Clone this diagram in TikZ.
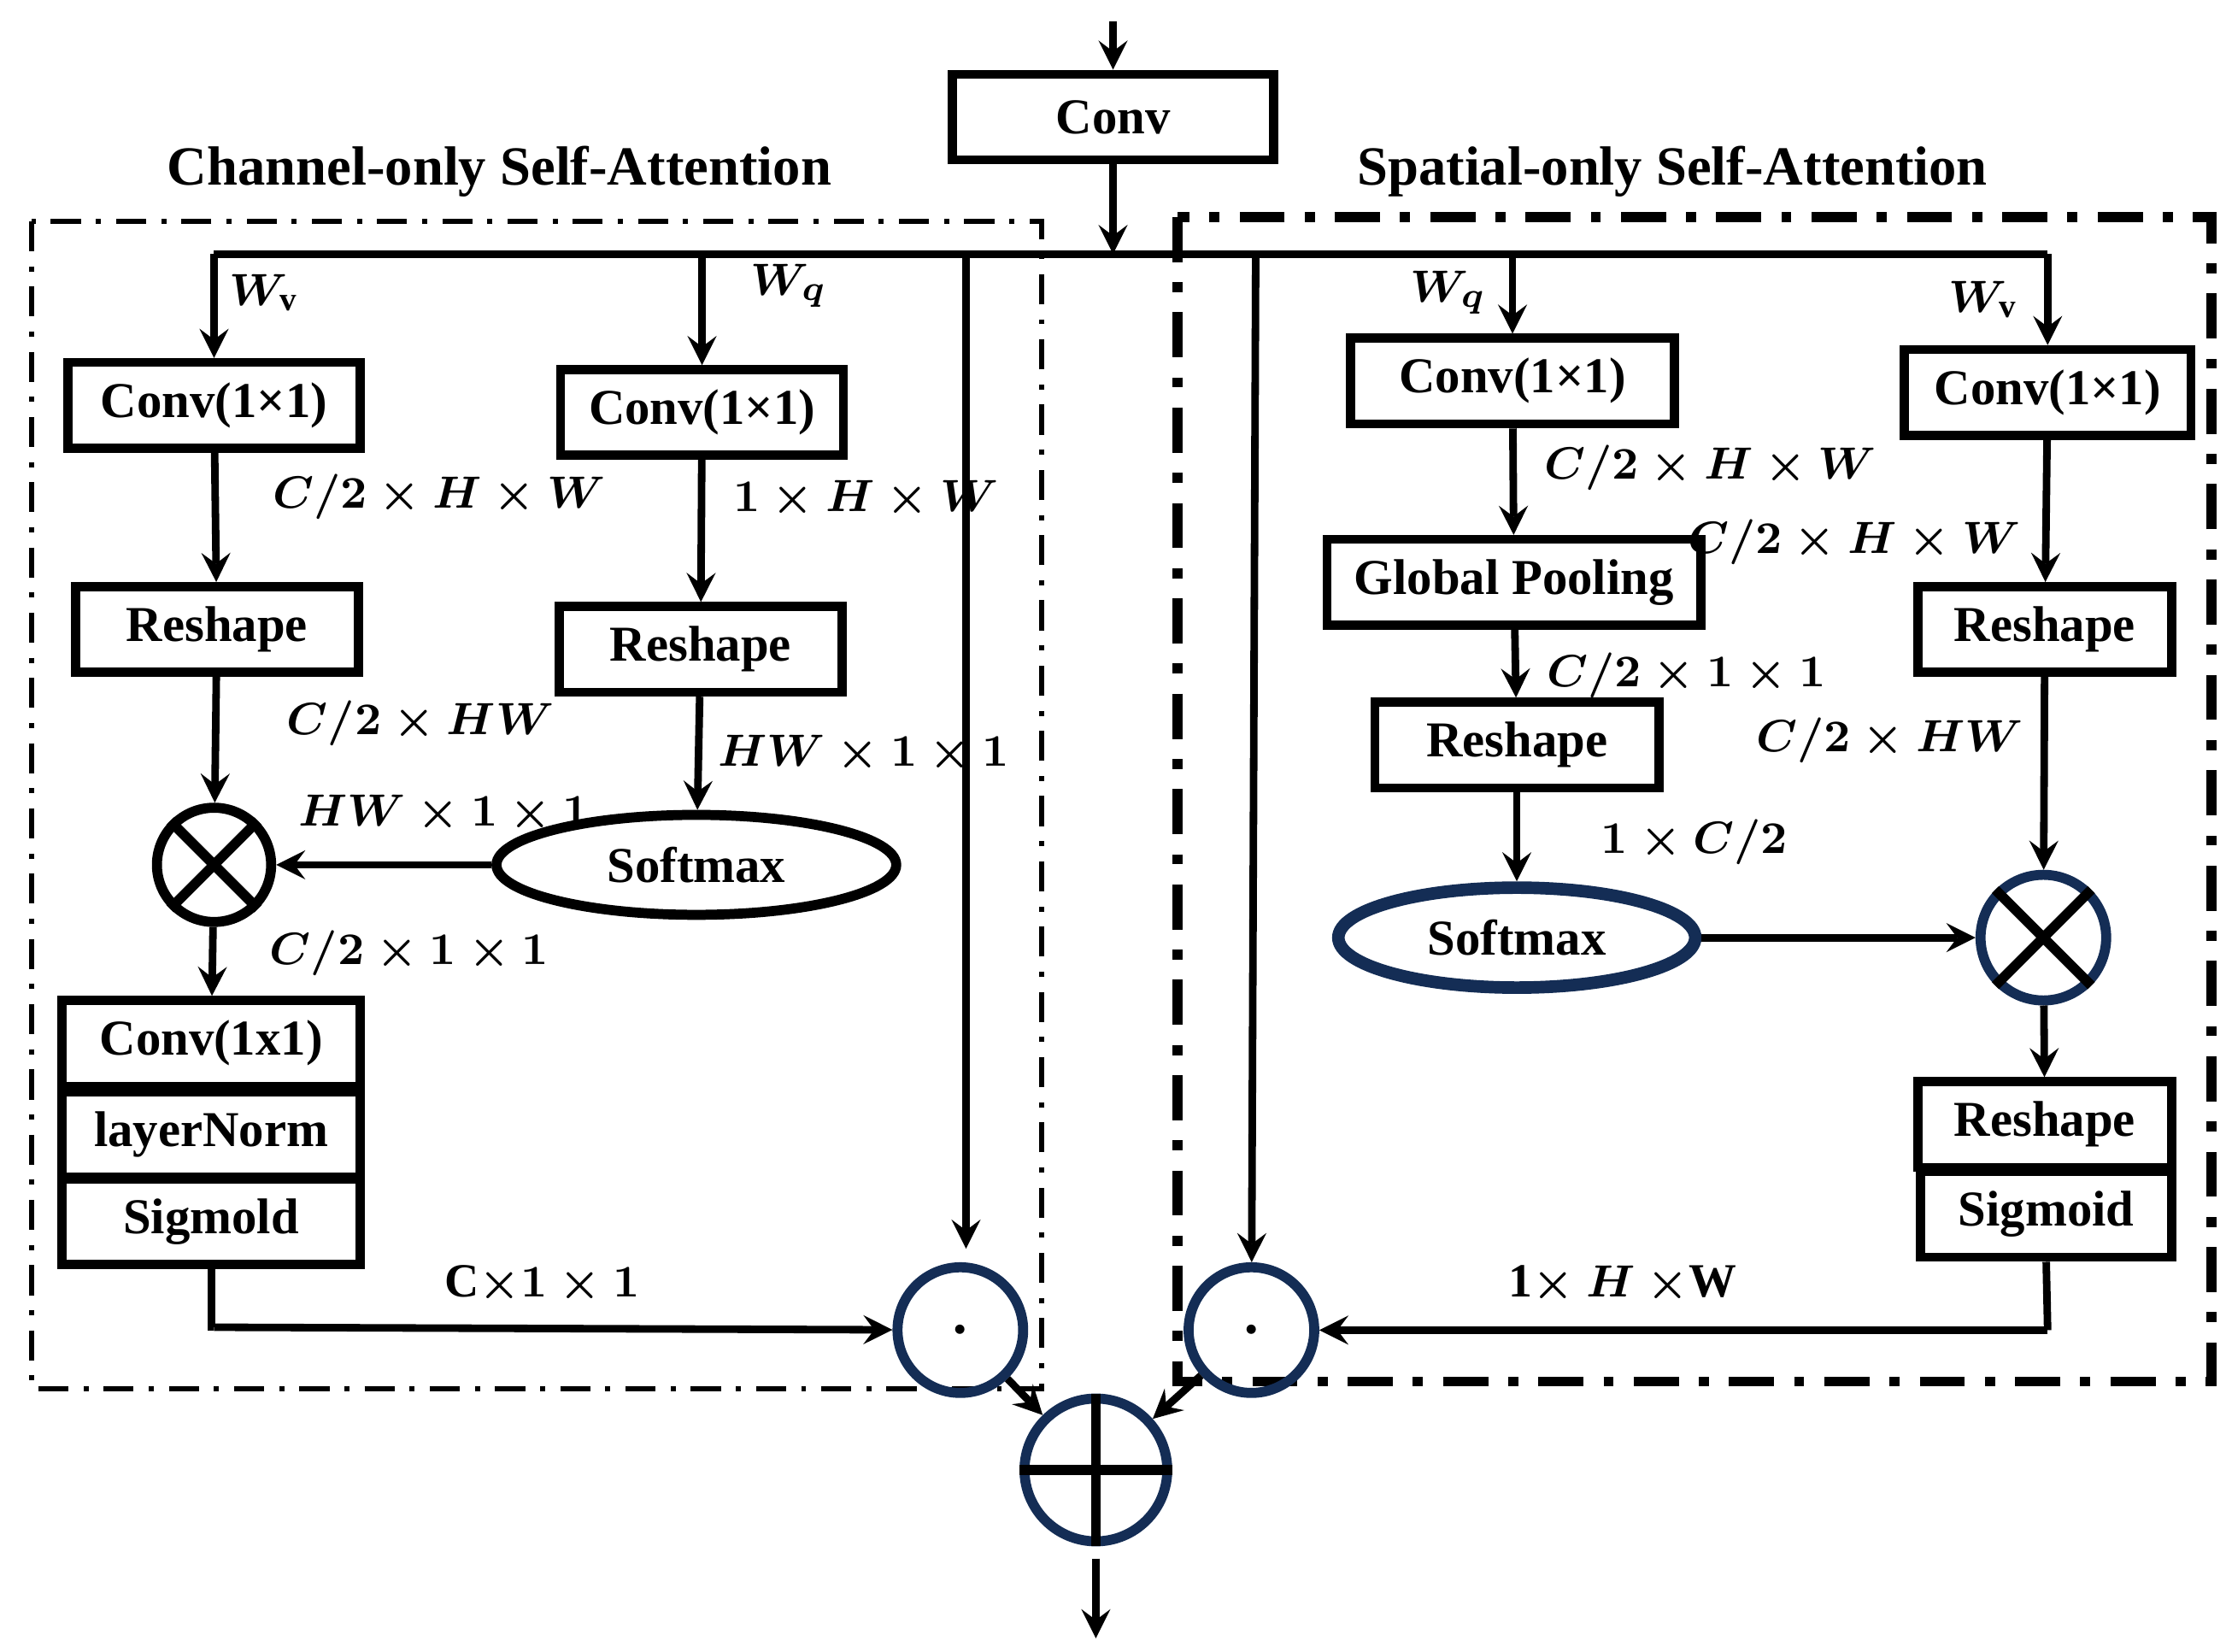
\documentclass[tikz,border=0pt]{standalone}
\usepackage{fontspec}
\setmainfont{Liberation Serif}
\usepackage{amsmath}
\usetikzlibrary{arrows,shapes.geometric}
\definecolor{navy}{RGB}{20,45,85}
\tikzset{
  box/.style={draw=black,line width=1.8pt,minimum height=0.6cm,inner sep=1pt,font=\bfseries},
  lab/.style={font=\fontsize{9.5}{11}\selectfont\bfseries\boldmath,inner sep=1pt},
  op/.style={circle,line width=2pt,inner sep=0pt}
}
\begin{document}
\begin{tikzpicture}[x=0.01cm,y=-0.01cm,>=stealth,line width=1.5pt,font=\fontsize{12}{14}\selectfont]
\useasboundingbox (0,0) rectangle (1560,1157);

% frames and titles
\draw[line width=1pt,dash pattern=on 6pt off 3pt on 1pt off 3pt] (22,155) rectangle (730,973);
\draw[line width=2pt,dash pattern=on 9pt off 4pt on 2pt off 4pt] (825,152) rectangle (1550,968);
\node[font=\fontsize{11}{13}\selectfont\bfseries] (t1) at (350,120) {Channel-only Self-Attention};
\node[font=\fontsize{11}{13}\selectfont\bfseries] (t2) at (1172,120) {Spatial-only Self-Attention};

% input
\coordinate (in) at (780,15);
\node[box,minimum width=2.25cm] (conv) at (780,82) {Conv};
\coordinate (J) at (780,178);
\coordinate (JL) at (150,178);
\coordinate (JR) at (1435,178);
\draw[->] (in) -- (conv);
\draw[->] (conv) -- (J);
\draw (JL) -- (JR);

% channel branch
\node[box,minimum width=2.05cm] (cv) at (150,284) {Conv(1×1)};
\node[box,minimum width=1.98cm] (cq) at (492,289) {Conv(1×1)};
\node[box,minimum width=1.98cm] (rv) at (152,441) {Reshape};
\node[box,minimum width=1.98cm] (rq) at (491,455) {Reshape};
\node[op,draw=black,minimum size=0.8cm] (m1) at (150,606) {};
\draw[line width=2pt] (m1.45) -- (m1.225) (m1.135) -- (m1.315);
\node[ellipse,draw=black,line width=2pt,minimum width=2.8cm,minimum height=0.7cm,font=\bfseries] (sm1) at (488,606) {Softmax};
\node[box,minimum width=2.09cm] (c11) at (148,731) {Conv(1x1)};
\node[box,minimum width=2.09cm] (ln) at (148,795) {layerNorm};
\node[box,minimum width=2.09cm] (sg1) at (148,856) {Sigmold};
\node[op,draw=navy,minimum size=0.88cm] (d1) at (673,932) {$\boldsymbol{\cdot}$};
\coordinate (tl) at (677,178);
\coordinate (bl) at (150,930);

\draw[->] (JL) -- (cv);
\draw[->] (492,178) -- (cq);
\draw[->] (cv) -- (rv);
\draw[->] (cq) -- (rq);
\draw[->] (rv) -- (m1);
\draw[->] (rq) -- (sm1);
\draw[->] (sm1) -- (m1);
\draw[->] (m1) -- (c11);
\draw (sg1.south) |- (bl);
\draw[->] (bl) -- (d1);
\draw[->] (tl) -- (677,875);

\node[lab] (lwv) at (185,205) {$W_{\mathrm{v}}$};
\node[lab] (lwq) at (553,200) {$W_q$};
\node[lab,anchor=west] (l1) at (185,348) {$C/2\times H\times W$};
\node[lab,anchor=west] (l2) at (508,350) {$1\times H\times W$};
\node[lab,anchor=west] (l3) at (195,507) {$C/2\times HW$};
\node[lab,anchor=west] (l4) at (497,528) {$HW\times 1\times 1$};
\node[lab,anchor=west] (l5) at (203,570) {$HW\times 1\times 1$};
\node[lab,anchor=west] (l6) at (183,668) {$C/2\times 1\times 1$};
\node[lab] (l7) at (380,900) {C$\times 1\times 1$};

% spatial branch
\node[box,minimum width=2.27cm] (sq) at (1060,267) {Conv(1×1)};
\node[box,minimum width=2.62cm] (gp) at (1061,408) {Global Pooling};
\node[box,minimum width=1.99cm] (rs1) at (1063,522) {Reshape};
\node[ellipse,draw=navy,line width=2.5pt,minimum width=2.5cm,minimum height=0.7cm,font=\bfseries] (sm2) at (1063,657) {Softmax};
\node[box,minimum width=2.01cm] (sv) at (1435,275) {Conv(1×1)};
\node[box,minimum width=1.78cm] (rs2) at (1433,441) {Reshape};
\node[op,draw=navy,minimum size=0.88cm] (m2) at (1432,657) {};
\draw[line width=2pt] (m2.45) -- (m2.225) (m2.135) -- (m2.315);
\node[box,minimum width=1.78cm] (rs3) at (1433,788) {Reshape};
\node[box,minimum width=1.76cm] (sg2) at (1434,851) {Sigmoid};
\node[op,draw=navy,minimum size=0.88cm] (d2) at (877,932) {$\boldsymbol{\cdot}$};
\coordinate (tr) at (880,178);
\coordinate (br) at (1435,932);

\draw[->] (1060,178) -- (sq);
\draw[->] (JR) -- (sv);
\draw[->] (sq) -- (gp);
\draw[->] (gp) -- (rs1);
\draw[->] (rs1) -- (sm2);
\draw[->] (sv) -- (rs2);
\draw[->] (rs2) -- (m2);
\draw[->] (sm2) -- (m2);
\draw[->] (m2) -- (rs3);
\draw (sg2.south) -- (br);
\draw[->] (br) -- (d2);
\draw[->] (tr) -- (d2);

\node[lab] (lwq2) at (1015,205) {$W_q$};
\node[lab] (lwv2) at (1390,210) {$W_{\mathrm{v}}$};
\node[lab,anchor=west] (r1) at (1076,328) {$C/2\times H\times W$};
\node[lab,anchor=east] (r2) at (1422,380) {$C/2\times H\times W$};
\node[lab,anchor=west] (r3) at (1078,473) {$C/2\times 1\times 1$};
\node[lab,anchor=east] (r4) at (1424,519) {$C/2\times HW$};
\node[lab,anchor=west] (r5) at (1116,590) {$1\times C/2$};
\node[lab] (r6) at (1137,900) {1$\times$ $H$ $\times$W};

% fusion
\node[op,draw=navy,minimum size=1cm] (add) at (768,1030) {};
\draw[line width=2pt] (add.north) -- (add.south) (add.west) -- (add.east);
\coordinate (out) at (768,1148);
\draw[->] (d1) -- (add);
\draw[->] (d2) -- (add);
\draw[->] (768,1092) -- (out);
\end{tikzpicture}
\end{document}
